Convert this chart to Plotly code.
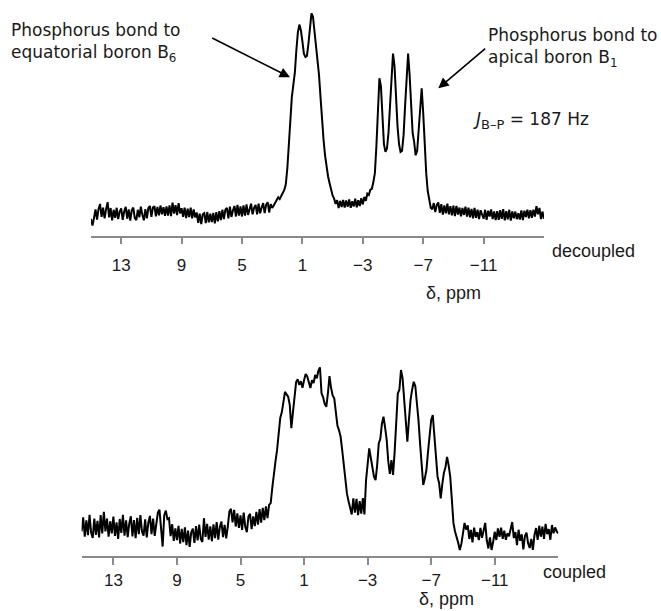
import numpy as np
import plotly.graph_objects as go

# chemical shift grid (ppm), 15 -> -15 in 0.1 ppm steps
ppm = np.round(np.arange(15.0, -15.05, -0.1), 1)

# decoupled spectrum, relative intensity
decoupled = [
    7.5, 4.5, 8.0, 11.8, 7.2, 12.0, 14.2, 8.4, 12.6, 7.8,
    11.9, 15.0, 8.2, 12.4, 6.9, 11.6, 8.0, 12.5, 7.4, 10.8,
    12.2, 7.1, 10.9, 12.9, 7.6, 11.8, 6.8, 11.4, 12.6, 7.9,
    7.0, 11.6, 8.2, 13.0, 9.4, 6.9, 11.9, 7.8, 12.4, 13.3,
    8.4, 12.6, 13.2, 8.7, 12.9, 9.1, 13.5, 9.6, 12.8, 8.9,
    13.1, 9.0, 13.6, 8.8, 14.8, 9.9, 13.7, 9.2, 14.6, 10.0,
    12.3, 8.4, 12.5, 7.9, 12.1, 8.3, 12.6, 7.8, 11.8, 8.2,
    10.4, 5.8, 9.9, 5.2, 9.6, 10.1, 5.6, 10.6, 6.0, 9.9,
    6.1, 10.2, 5.5, 10.5, 6.4, 11.0, 7.0, 11.6, 7.4, 11.7,
    12.5, 7.8, 13.0, 8.4, 11.3, 13.3, 8.6, 13.8, 9.0, 13.1,
    8.6, 13.6, 9.0, 14.0, 9.3, 12.1, 14.3, 9.6, 12.5, 13.8,
    9.6, 14.4, 10.0, 12.6, 14.6, 10.1, 13.9, 15.0, 10.4, 14.2,
    12.4, 13.5, 14.6, 16.0, 17.2, 16.4, 18.0, 19.2, 20.5, 23.0,
    30.0, 40.5, 52.0, 62.0, 67.5, 73.0, 83.0, 91.0, 94.5, 92.0,
    87.0, 81.5, 80.0, 80.5, 86.0, 94.0, 99.5, 98.0, 92.0, 84.0,
    78.0, 72.0, 62.0, 50.0, 43.0, 36.0, 30.5, 26.5, 23.5, 20.5,
    18.0, 16.6, 14.2, 15.9, 12.4, 15.6, 12.8, 16.0, 12.6, 15.8,
    12.9, 16.2, 12.5, 15.4, 13.1, 16.6, 12.7, 15.9, 13.3, 16.8,
    14.0, 17.4, 15.6, 18.8, 18.2, 20.6, 21.0, 24.0, 28.0, 40.0,
    58.0, 70.5, 67.0, 52.0, 41.0, 37.5, 39.0, 46.0, 58.0, 72.0,
    81.5, 76.0, 62.0, 49.0, 41.0, 37.5, 38.0, 45.0, 58.0, 72.0,
    81.5, 72.0, 55.0, 46.0, 42.0, 36.0, 38.0, 48.0, 60.0, 66.0,
    55.0, 38.0, 28.0, 20.0, 15.0, 12.5, 11.8, 14.6, 10.6, 13.8,
    14.9, 10.2, 14.1, 9.4, 13.6, 10.0, 14.4, 9.6, 13.2, 9.1,
    13.4, 8.8, 13.3, 9.5, 12.6, 8.7, 12.4, 9.3, 13.0, 8.6,
    12.5, 8.2, 12.0, 7.8, 12.4, 8.0, 11.7, 7.4, 11.4, 9.0,
    7.6, 11.6, 7.1, 11.2, 8.6, 11.8, 7.4, 10.9, 7.0, 11.0,
    7.1, 11.4, 7.5, 11.9, 6.9, 11.0, 7.3, 11.6, 6.8, 10.9,
    7.8, 10.8, 7.4, 10.1, 7.2, 11.3, 7.0, 11.2, 8.4, 11.6,
    7.8, 11.4, 8.0, 11.6, 8.6, 13.2, 9.6, 12.4, 7.4, 10.8,
    7.6,
]

# coupled spectrum, relative intensity
coupled = [
    13.0, 20.5, 10.2, 18.8, 11.0, 21.8, 12.4, 9.6, 19.8, 11.2,
    18.6, 9.8, 21.6, 12.0, 23.4, 13.0, 19.8, 10.2, 18.4, 12.0,
    20.9, 10.6, 17.8, 9.0, 19.6, 12.2, 21.8, 10.8, 18.9, 10.0,
    17.2, 21.0, 10.4, 19.0, 9.4, 20.2, 11.6, 21.6, 13.0, 10.8,
    19.4, 9.8, 17.6, 21.2, 11.6, 19.8, 10.6, 18.4, 23.0, 24.5,
    13.0, 5.0, 21.5, 24.0, 19.5, 20.0, 10.5, 16.8, 8.0, 14.6,
    8.4, 16.0, 6.6, 14.4, 7.4, 15.2, 5.8, 13.4, 4.8, 12.6,
    14.5, 6.9, 15.8, 8.2, 16.6, 9.0, 7.4, 20.0, 10.1, 17.0,
    8.6, 15.7, 7.8, 16.8, 9.5, 17.9, 8.7, 15.4, 18.2, 10.0,
    16.5, 9.3, 15.6, 23.5, 25.0, 17.8, 24.4, 15.6, 22.6, 14.9,
    21.5, 13.8, 23.0, 15.4, 12.6, 20.9, 22.3, 14.2, 21.0, 15.8,
    23.4, 16.6, 24.8, 17.7, 25.5, 19.0, 26.2, 20.0, 27.0, 28.0,
    36.0, 44.0, 50.0, 56.0, 66.0, 73.0, 76.0, 81.0, 86.9, 85.5,
    84.3, 80.0, 67.6, 76.0, 84.0, 92.0, 93.5, 90.5, 92.5, 89.0,
    93.0, 96.3, 95.0, 91.0, 88.9, 93.0, 91.5, 95.8, 94.0, 98.0,
    99.8, 86.1, 84.0, 80.5, 78.9, 86.0, 95.2, 89.0, 85.0, 83.4,
    75.0, 69.0, 66.5, 63.1, 56.0, 48.5, 39.5, 33.0, 29.0, 26.1,
    22.0, 30.5, 23.0, 30.2, 21.6, 29.0, 22.4, 30.6, 22.0, 40.0,
    51.0, 56.9, 52.0, 45.5, 42.0, 40.2, 48.0, 59.6, 62.0, 70.0,
    73.7, 68.0, 61.4, 50.0, 43.5, 50.8, 42.9, 55.0, 75.0, 86.0,
    88.0, 98.4, 94.0, 82.0, 72.0, 60.5, 72.0, 82.5, 88.0, 92.2,
    90.0, 82.5, 72.0, 59.6, 48.0, 37.6, 41.0, 45.5, 55.0, 64.0,
    72.0, 74.6, 62.0, 50.0, 42.0, 38.5, 30.5, 38.0, 44.0, 47.0,
    52.4, 48.0, 41.9, 30.0, 17.5, 13.0, 10.5, 7.0, 3.2, 6.5,
    12.0, 17.5, 14.0, 16.2, 9.0, 13.8, 7.2, 15.0, 10.1, 12.6,
    8.4, 14.9, 9.6, 13.4, 17.5, 8.2, 4.0, 9.8, 3.2, 7.5,
    12.8, 8.5, 14.6, 10.2, 15.0, 9.1, 13.4, 8.6, 12.0, 10.4,
    14.0, 18.0, 9.5, 12.7, 5.8, 13.9, 8.0, 11.5, 3.5, 10.6,
    12.4, 6.8, 4.2, 9.0, 3.2, 11.0, 14.8, 8.5, 16.0, 10.2,
    15.5, 9.0, 17.0, 11.6, 14.2, 8.6, 16.4, 12.0, 15.1, 13.0,
    12.0,
]

tick_vals = [13, 9, 5, 1, -3, -7, -11]
tick_text = ["13", "9", "5", "1", "\u22123", "\u22127", "\u221211"]

W, H = 661, 611
AX_COLOR = "#8a8a8a"
TICK_FONT = dict(family="Liberation Sans, Arial, sans-serif", size=17, color="#1a1a1a")
LABEL_FONT = dict(family="DejaVu Sans, Verdana, sans-serif", size=17, color="#1a1a1a")

fig = go.Figure()
fig.add_trace(go.Scatter(x=ppm, y=decoupled, mode="lines",
                         line=dict(color="black", width=2.0),
                         xaxis="x", yaxis="y", showlegend=False))
fig.add_trace(go.Scatter(x=ppm, y=coupled, mode="lines",
                         line=dict(color="black", width=2.0),
                         xaxis="x2", yaxis="y2", showlegend=False))

xcommon = dict(range=[15, -15], tickvals=tick_vals, ticktext=tick_text,
               showline=True, linecolor=AX_COLOR, linewidth=1.5,
               ticks="outside", ticklen=7, tickwidth=1.5, tickcolor=AX_COLOR,
               showgrid=False, zeroline=False, tickfont=TICK_FONT,
               fixedrange=True)

fig.update_layout(
    width=W, height=H,
    margin=dict(l=0, r=0, t=0, b=0),
    plot_bgcolor="white", paper_bgcolor="white",
    xaxis=dict(domain=[91 / W, 544 / W], anchor="y", ticklabelstandoff=6, **xcommon),
    yaxis=dict(domain=[1 - 235.7 / H, 1.0], range=[0, 105.5], visible=False, fixedrange=True),
    xaxis2=dict(domain=[81.6 / W, 558.3 / W], anchor="y2", ticklabelstandoff=1, **xcommon),
    yaxis2=dict(domain=[1 - 556 / H, 1 - 340 / H], range=[0, 114.3], visible=False, fixedrange=True),
)

def px(xp, yp):
    return xp / W, 1 - yp / H

ann = []
x0, y0 = px(9, 18)
ann.append(dict(x=x0, y=y0, xref="paper", yref="paper", xanchor="left", yanchor="top",
                align="left", showarrow=False, font=LABEL_FONT,
                text="Phosphorus bond to<br>equatorial boron B<sub>6</sub>"))
x0, y0 = px(660, 23)
ann.append(dict(x=x0, y=y0, xref="paper", yref="paper", xanchor="right", yanchor="top",
                align="left", showarrow=False, font=LABEL_FONT,
                text="Phosphorus bond to<br>apical boron B<sub>1</sub>"))
x0, y0 = px(471, 107)
ann.append(dict(x=x0, y=y0, xref="paper", yref="paper", xanchor="left", yanchor="top",
                align="left", showarrow=False,
                font=dict(family="DejaVu Sans, Verdana, sans-serif", size=17, color="#1a1a1a"),
                text="<i>J</i><sub><span style=\"font-size:13px\">B\u2013P</span></sub> = 187 Hz"))
# arrows
x0, y0 = px(290, 77.3)
ann.append(dict(x=x0, y=y0, xref="paper", yref="paper", ax=-79.3, ay=-40, text="",
                showarrow=True, arrowhead=2, arrowsize=1.3, arrowwidth=1.6, arrowcolor="black",
                standoff=0, startstandoff=0))
x0, y0 = px(438.3, 88.3)
ann.append(dict(x=x0, y=y0, xref="paper", yref="paper", ax=48.4, ay=-41, text="",
                showarrow=True, arrowhead=2, arrowsize=1.3, arrowwidth=1.6, arrowcolor="black",
                standoff=0, startstandoff=0))
# axis side labels
for txt, xp, yp in [("decoupled", 550, 251), ("\u03b4, ppm", 424, 293),
                    ("coupled", 540.5, 572), ("\u03b4, ppm", 416.5, 599)]:
    x0, y0 = px(xp, yp)
    ann.append(dict(x=x0, y=y0, xref="paper", yref="paper", xanchor="left", yanchor="middle",
                    showarrow=False, text=txt,
                    font=dict(family="Liberation Sans, Arial, sans-serif", size=18, color="#1a1a1a")))

fig.update_layout(annotations=ann)
fig.write_html("out.html", config={"displayModeBar": False},
               post_script="document.body.style.margin='0px';")
